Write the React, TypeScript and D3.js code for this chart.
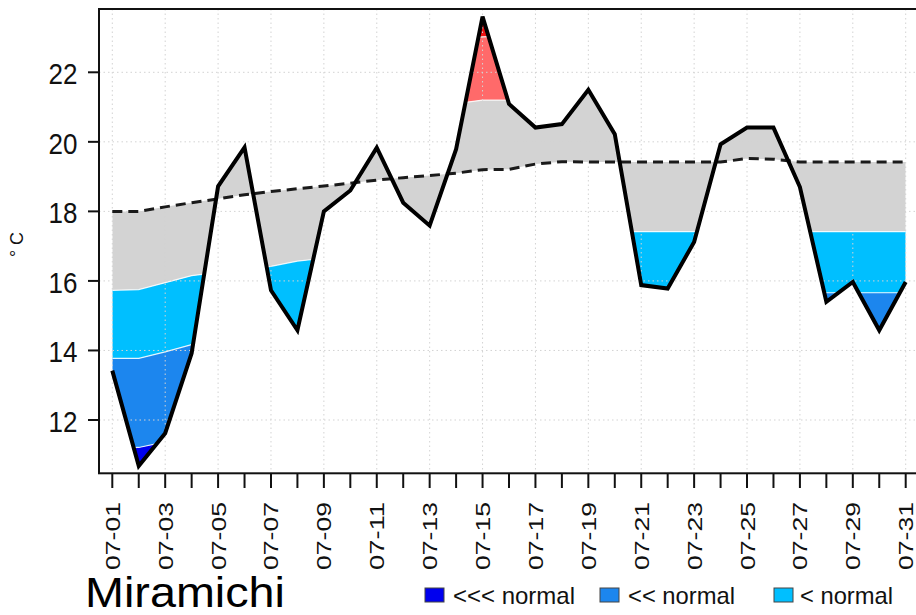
import React from 'react';
import * as d3 from 'd3';

const days = ['07-01','07-02','07-03','07-04','07-05','07-06','07-07','07-08','07-09','07-10','07-11','07-12','07-13','07-14','07-15','07-16','07-17','07-18','07-19','07-20','07-21','07-22','07-23','07-24','07-25','07-26','07-27','07-28','07-29','07-30','07-31'];
const observed = [13.42,10.68,11.62,13.92,18.72,19.84,15.73,14.58,18.0,18.6,19.83,18.25,17.59,19.79,23.6,21.09,20.41,20.51,21.5,20.22,15.88,15.78,17.12,19.93,20.41,20.41,18.7,15.4,15.97,14.58,15.97];
const normal = [18.0,18.0,18.13,18.25,18.36,18.48,18.57,18.65,18.73,18.81,18.9,18.97,19.03,19.1,19.2,19.21,19.36,19.43,19.42,19.42,19.42,19.42,19.42,19.42,19.52,19.5,19.42,19.42,19.42,19.42,19.42];
// band limits ("< normal", "<< normal", "<<< normal", "> normal", ">> normal")
const lower1 = [15.73,15.75,15.95,16.15,16.25,16.33,16.42,16.57,16.65,16.75,16.85,16.95,17.0,17.1,17.2,17.2,17.3,17.4,17.42,17.42,17.42,17.42,17.42,17.42,17.5,17.5,17.42,17.42,17.42,17.42,17.42];
const lower2 = [13.77,13.77,13.96,14.17,14.28,14.36,14.42,14.48,14.55,14.62,14.7,14.78,14.85,14.92,15.0,15.05,15.12,15.2,15.25,15.3,15.35,15.4,15.45,15.5,15.55,15.6,15.62,15.66,15.66,15.66,15.66];
const lower3 = [11.2,11.21,11.37,11.5,11.6,11.7,11.8,11.9,12.0,12.1,12.2,12.3,12.4,12.5,12.6,12.65,12.7,12.75,12.8,12.8,12.8,12.8,12.8,12.8,12.85,12.85,12.8,12.8,12.8,12.8,12.8];
const upper1 = [20.2,20.2,20.3,20.4,20.5,20.6,20.65,20.7,20.75,20.8,20.85,20.9,21.0,21.1,21.2,21.2,21.35,21.6,21.7,21.7,21.7,21.7,21.7,21.7,21.75,21.75,21.7,21.7,21.7,21.7,21.7];
const upper2 = [22.0,22.0,22.1,22.2,22.3,22.4,22.45,22.5,22.55,22.6,22.7,22.8,22.9,22.95,23.02,23.05,23.1,23.2,23.3,23.3,23.3,23.3,23.3,23.3,23.35,23.35,23.3,23.3,23.3,23.3,23.3];
const yTicks = [12, 14, 16, 18, 20, 22];
const legendLabels = ['<<< normal', '<< normal', '< normal'];
const legendColors = ['#0000EE', '#1C86EE', '#00BFFF'];
const stationName = 'Miramichi';
const yLabel = '°C';

const FONT = 'Liberation Sans, Arial, Helvetica, sans-serif';

export default function App() {
  const W = 916, H = 615;
  const left = 99, top = 9, bottom = 473.3, right = 935;
  const x = d3.scaleLinear().domain([0, 30]).range([112.3, 905.7]);
  const y = d3.scaleLinear().domain([12, 22]).range([420, 72.3]);
  const yMin = y.invert(bottom + 5);
  const yMax = y.invert(top - 5);
  const idx = d3.range(days.length);

  const clipPath = d3.area<number>()
    .x(i => x(i))
    .y0(i => y(observed[i]))
    .y1(i => y(normal[i]))(idx) || '';

  const band = (lo: (i: number) => number, hi: (i: number) => number) =>
    d3.area<number>().x(i => x(i)).y0(i => y(lo(i))).y1(i => y(hi(i)))(idx) || '';

  const bands = [
    { d: band(() => yMin, i => lower3[i]), fill: '#0000EE' },
    { d: band(i => lower3[i], i => lower2[i]), fill: '#1C86EE' },
    { d: band(i => lower2[i], i => lower1[i]), fill: '#00BFFF' },
    { d: band(i => lower1[i], i => upper1[i]), fill: '#D3D3D3' },
    { d: band(i => upper1[i], i => upper2[i]), fill: '#FF6A6A' },
    { d: band(i => upper2[i], () => yMax), fill: '#EE1111' },
  ];

  const lineGen = (arr: number[]) => d3.line<number>().x(i => x(i)).y(i => y(arr[i]))(idx) || '';
  const boundaries = [lower1, lower2, lower3, upper1, upper2];

  const legendX = [425, 600, 774];
  const legendTextX = [453, 628, 800];
  const legendTextW = [122, 107, 93];

  return (
    <svg width={W} height={H} style={{ position: 'absolute', left: 0, top: 0, background: '#fff' }}>
      <defs>
        <clipPath id="obsNormClip">
          <path d={clipPath} />
        </clipPath>
        <clipPath id="plotClip">
          <rect x={left} y={top} width={right - left} height={bottom - top} />
        </clipPath>
      </defs>

      <g clipPath="url(#plotClip)">
        <g clipPath="url(#obsNormClip)">
          {bands.map((b, k) => <path key={k} d={b.d} fill={b.fill} stroke="none" />)}
          {boundaries.map((arr, k) => (
            <path key={'b' + k} d={lineGen(arr)} fill="none" stroke="#ffffff" strokeWidth={1.2} strokeOpacity={0.85} />
          ))}
        </g>

        {/* grid */}
        {yTicks.map(t => (
          <line key={'gy' + t} x1={left} x2={right} y1={y(t)} y2={y(t)} stroke="#D3D3D3" strokeWidth={1} strokeDasharray="1.5 3" />
        ))}
        {idx.filter(i => i % 2 === 0).map(i => (
          <line key={'gx' + i} x1={x(i)} x2={x(i)} y1={top} y2={bottom} stroke="#D3D3D3" strokeWidth={1} strokeDasharray="1.5 3" />
        ))}

        <path d={lineGen(normal)} fill="none" stroke="#1a1a1a" strokeWidth={3} strokeDasharray="10 6" />
        <path d={lineGen(observed)} fill="none" stroke="#000" strokeWidth={4} strokeLinejoin="miter" />
      </g>

      {/* frame */}
      <rect x={left} y={top} width={right - left} height={bottom - top} fill="none" stroke="#111" strokeWidth={2} />

      {/* y axis */}
      {yTicks.map(t => (
        <g key={'yt' + t}>
          <line x1={88} x2={left} y1={y(t)} y2={y(t)} stroke="#111" strokeWidth={2} />
          <text transform={`translate(77.5,${y(t) + 12}) scale(1,1.17)`} textAnchor="end" fontSize={26} fontFamily={FONT} fill="#111">{t}</text>
        </g>
      ))}
      <text transform="translate(22.5,242) rotate(-90)" textAnchor="middle" fontSize={18} letterSpacing={5} fontFamily={FONT} fill="#111">{yLabel}</text>

      {/* x axis */}
      {idx.map(i => (
        <line key={'xt' + i} x1={x(i)} x2={x(i)} y1={bottom} y2={488} stroke="#111" strokeWidth={2} />
      ))}
      {idx.filter(i => i % 2 === 0).map(i => (
        <text key={'xl' + i} transform={`translate(${x(i) + 7.5},502) rotate(-90)`} textAnchor="end" fontSize={21} fontFamily={FONT} fill="#111" textLength={68} lengthAdjust="spacingAndGlyphs">{days[i]}</text>
      ))}

      {/* station name */}
      <text x={85} y={607} fontSize={43} fontFamily={FONT} fill="#000" textLength={200} lengthAdjust="spacingAndGlyphs">{stationName}</text>

      {/* legend */}
      {legendLabels.map((lab, k) => (
        <g key={'lg' + k}>
          <rect x={legendX[k]} y={588} width={19} height={14} fill={legendColors[k]} stroke="#444" strokeWidth={1} />
          <text x={legendTextX[k]} y={604} fontSize={24} fontFamily={FONT} fill="#111" textLength={legendTextW[k]} lengthAdjust="spacingAndGlyphs">{lab}</text>
        </g>
      ))}
    </svg>
  );
}
